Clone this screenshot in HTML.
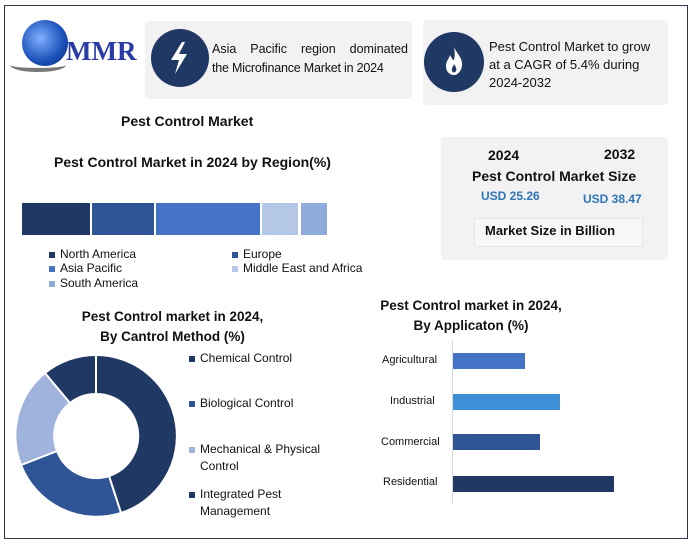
<!DOCTYPE html><html><head><style>
body{margin:0;width:694px;height:545px;background:#fff;position:relative;font-family:"Liberation Sans",sans-serif;overflow:hidden}
.a{position:absolute}
.t{font-weight:bold;font-size:13px;color:#111}
.l{font-size:12px;color:#111}
.sq{display:inline-block;width:6px;height:6px;margin-right:5px;vertical-align:middle}
</style></head><body>
<div class="a" style="left:4px;top:5px;width:682px;height:532px;border:1px solid #2b3a4a"></div>
<!-- logo -->
<div class="a" style="left:22px;top:20px;width:46px;height:46px;border-radius:50%;background:radial-gradient(circle at 40% 40%,#7fb0ff,#1a4fb8 60%,#0b2a70)"></div>
<div class="a" style="left:10px;top:58px;width:56px;height:10px;border-radius:50%;border-bottom:4px solid #777"></div>
<div class="a" style="left:66px;top:36px;font-family:'Liberation Serif',serif;font-weight:bold;font-size:27px;color:#2a3aa8">MMR</div>
<!-- box1 -->
<div class="a" style="left:145px;top:21px;width:267px;height:78px;background:#f2f2f2;border-radius:5px"></div>
<div class="a" style="left:151px;top:29px;width:58px;height:58px;border-radius:50%;background:#203864"></div>
<svg class="a" style="left:165px;top:40px" width="30" height="36"><polygon points="17,2 6,20 14,20 10,34 22,14 14,14 20,2" fill="#fff"/></svg>
<div class="a l" style="left:212px;top:40px;width:196px;font-size:12.5px;line-height:19px;text-align:justify;text-align-last:justify;white-space:nowrap">Asia Pacific region dominated</div>
<div class="a l" style="left:212px;top:59px;width:196px;font-size:12.5px;line-height:19px;white-space:nowrap;letter-spacing:-0.2px">the Microfinance Market in 2024</div>
<!-- box2 -->
<div class="a" style="left:423px;top:20px;width:245px;height:85px;background:#f2f2f2;border-radius:5px"></div>
<div class="a" style="left:424px;top:32px;width:60px;height:60px;border-radius:50%;background:#203864"></div>
<svg class="a" style="left:443px;top:46px" width="22" height="30"><path d="M11,1 C14,8 20,12 19,20 C18,26 14,29 11,29 C7,29 3,26 3,20 C3,15 6,13 7,9 C9,13 10,14 11,14 C12,10 12,5 11,1Z" fill="#fff"/><path d="M11,18 C13,21 14,23 13,25 C12,27 10,27 9,25 C8,23 10,21 11,18Z" fill="#203864"/></svg>
<div class="a l" style="left:489px;top:38px;font-size:13px;line-height:18px;white-space:nowrap">Pest Control Market to grow<br>at a CAGR of 5.4% during<br>2024-2032</div>
<div class="a t" style="left:121px;top:113px;font-size:14px">Pest Control Market</div>
<div class="a t" style="left:54px;top:154px;font-size:14px">Pest Control Market in 2024 by Region(%)</div>
<!-- market box -->
<div class="a" style="left:441px;top:137px;width:227px;height:123px;background:#f2f2f2;border-radius:4px"></div>
<div class="a t" style="left:488px;top:147px;font-size:14px">2024</div>
<div class="a t" style="left:604px;top:146px;font-size:14px">2032</div>
<div class="a t" style="left:472px;top:168px;font-size:14px">Pest Control Market Size</div>
<div class="a" style="left:481px;top:189px;font-size:12px;font-weight:bold;color:#2e75b6">USD 25.26</div>
<div class="a" style="left:583px;top:192px;font-size:12px;font-weight:bold;color:#2e75b6">USD 38.47</div>
<div class="a" style="left:474px;top:218px;width:167px;height:27px;background:#f7f7f7;border:1px solid #e6e6e6"></div>
<div class="a t" style="left:485px;top:223px">Market Size in Billion</div>
<!-- region bar -->
<div class="a" style="left:22px;top:203px;width:68px;height:32px;background:#203864"></div>
<div class="a" style="left:92px;top:203px;width:62px;height:32px;background:#2f5597"></div>
<div class="a" style="left:156px;top:203px;width:104px;height:32px;background:#4472c4"></div>
<div class="a" style="left:262px;top:203px;width:36px;height:32px;background:#b4c7e7"></div>
<div class="a" style="left:301px;top:203px;width:26px;height:32px;background:#8faadc"></div>
<div class="a l" style="left:49px;top:247px"><span class="sq" style="background:#203864"></span>North America</div>
<div class="a l" style="left:232px;top:247px"><span class="sq" style="background:#2f5597"></span>Europe</div>
<div class="a l" style="left:49px;top:261px"><span class="sq" style="background:#4472c4"></span>Asia Pacific</div>
<div class="a l" style="left:232px;top:261px"><span class="sq" style="background:#b4c7e7"></span>Middle East and Africa</div>
<div class="a l" style="left:49px;top:276px"><span class="sq" style="background:#8faadc"></span>South America</div>
<!-- donut -->
<div class="a t" style="left:60px;top:307px;width:225px;text-align:center;line-height:20px;font-size:13.5px">Pest Control market in 2024,<br>By Cantrol Method (%)</div>
<svg class="a" style="left:0;top:340px" width="190" height="190">
<g transform="translate(96,96)" stroke="#fff" stroke-width="2">
<path d="M0,-81 A81,81 0 0 1 25,77 L13,40 A42,42 0 0 0 0,-42Z" fill="#203864"/>
<path d="M25,77 A81,81 0 0 1 -75,29 L-39,15 A42,42 0 0 0 13,40Z" fill="#2f5597"/>
<path d="M-75,29 A81,81 0 0 1 -51,-63 L-26,-33 A42,42 0 0 0 -39,15Z" fill="#9fb3dc"/>
<path d="M-51,-63 A81,81 0 0 1 0,-81 L0,-42 A42,42 0 0 0 -26,-33Z" fill="#203864"/>
</g></svg>
<div class="a l" style="left:189px;top:351px"><span class="sq" style="background:#203864"></span>Chemical Control</div>
<div class="a l" style="left:189px;top:396px"><span class="sq" style="background:#2f5597"></span>Biological Control</div>
<div class="a l" style="left:189px;top:441px;line-height:17px"><span class="sq" style="background:#9fb3dc"></span>Mechanical &amp; Physical<br><span style="margin-left:11px">Control</span></div>
<div class="a l" style="left:189px;top:486px;line-height:17px"><span class="sq" style="background:#203864"></span>Integrated Pest<br><span style="margin-left:11px">Management</span></div>
<!-- app bars -->
<div class="a t" style="left:365px;top:296px;width:212px;text-align:center;line-height:20px;font-size:13.5px">Pest Control market in 2024,<br>By Applicaton (%)</div>
<div class="a" style="left:452px;top:340px;width:1px;height:164px;background:#d9d9d9"></div>
<div class="a l" style="left:382px;top:354px;font-size:11px">Agricultural</div>
<div class="a l" style="left:390px;top:395px;font-size:11px">Industrial</div>
<div class="a l" style="left:381px;top:436px;font-size:11px">Commercial</div>
<div class="a l" style="left:383px;top:476px;font-size:11px">Residential</div>
<div class="a" style="left:453px;top:353px;width:72px;height:16px;background:#4472c4"></div>
<div class="a" style="left:453px;top:394px;width:107px;height:16px;background:#3d8fd6"></div>
<div class="a" style="left:453px;top:434px;width:87px;height:16px;background:#2f5597"></div>
<div class="a" style="left:453px;top:476px;width:161px;height:16px;background:#203864"></div>
</body></html>
